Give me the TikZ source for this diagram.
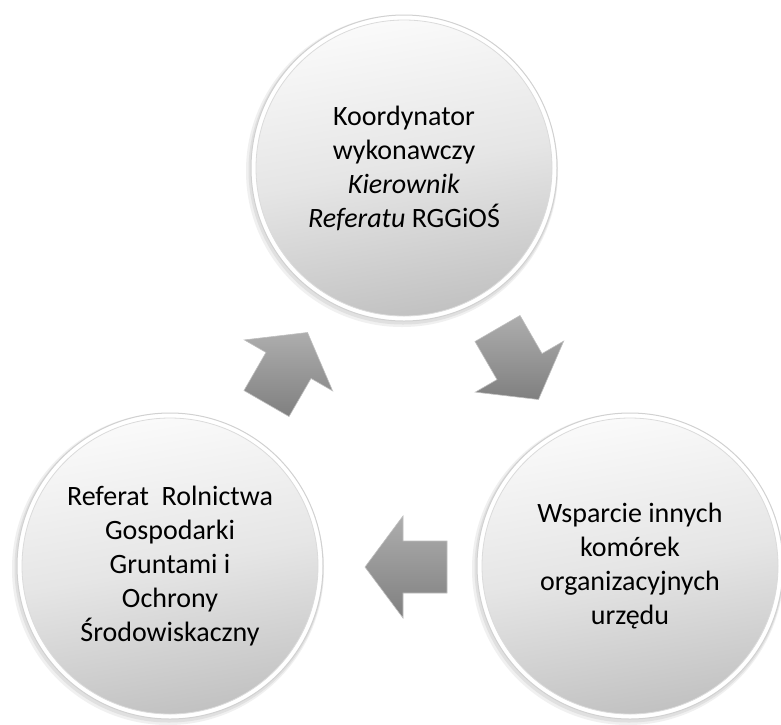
\documentclass[tikz,border=0pt]{standalone}
\usepackage{fontspec}
\setmainfont{Carlito}
\usetikzlibrary{shadings}
\tikzset{
  bubble/.style={circle, minimum size=296pt, inner sep=0pt,
    top color=black!2, bottom color=black!24, middle color=black!10, shading angle=10,
    draw=black!14, line width=0.8pt, align=center,
    font=\fontsize{28}{34}\selectfont},
  rim/.style={fill=white, draw=black!18, line width=1pt},
  blockarrow/.style={top color=black!32, bottom color=black!50, draw=black!25, line width=0.6pt},
}
\newcommand{\myarrow}[3]{%
  \begin{scope}[shift={(#1,#2)}, rotate=#3]
    \path[blockarrow] (-41,-26) -- (3,-26) -- (3,-51) -- (41,0) -- (3,51) -- (3,26) -- (-41,26) -- cycle;
  \end{scope}}
\begin{document}
\begin{tikzpicture}[x=1pt,y=1pt]
\useasboundingbox (0,0) rectangle (781,-724);
\fill[white] (0,0) rectangle (781,-724);
% rims with soft shadow
\foreach \cx/\cy in {404/-168, 170/-566, 630/-566}{
  \fill[black!6] (\cx-2,\cy-3) circle (156);
  \fill[black!12] (\cx-1,\cy-2) circle (154.5);
  \path[rim] (\cx,\cy) circle (153);
}
\node[bubble] (top) at (404,-168) {Koordynator\\wykonawczy\\\textit{Kierownik}\\\textit{Referatu} RGGiOŚ};
\node[bubble] (left) at (170,-566) {Referat\ \ Rolnictwa\\Gospodarki\\Gruntami i\\Ochrony\\Środowiskaczny};
\node[bubble] (right) at (630,-566) {Wsparcie innych\\komórek\\organizacyjnych\\urzędu};
% block arrows of the cycle
\myarrow{518}{-364}{-60}
\myarrow{406}{-567}{180}
\myarrow{287}{-368}{60}
\end{tikzpicture}
\end{document}
